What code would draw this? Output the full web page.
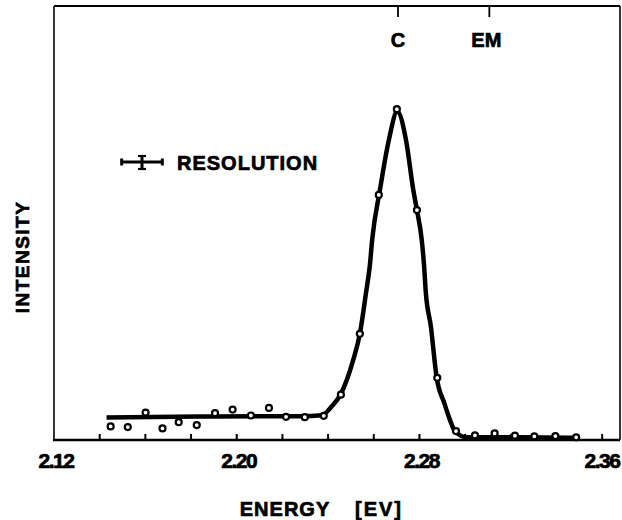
<!DOCTYPE html>
<html>
<head>
<meta charset="utf-8">
<script src="https://cdn.jsdelivr.net/npm/d3@7"></script>
<style>
  body { margin: 0; background: #fff; }
  text { font-family: "Liberation Sans", Arial, sans-serif; font-weight: bold; fill: #000;
         stroke: #000; stroke-width: 0.7px; }
</style>
</head>
<body>
<div id="chart"></div>
<script>
// 1. The data
// measured points: energy [eV] and intensity (arb. units, peak = 100)
const energies = [2.1448, 2.1523, 2.1601, 2.1675, 2.1746, 2.1825, 2.1905, 2.1982, 2.2062,
  2.2141, 2.2216, 2.2298, 2.2381, 2.2456, 2.2539, 2.2622, 2.2701, 2.2789, 2.2878,
  2.2960, 2.3043, 2.3129, 2.3218, 2.3303, 2.3395, 2.3486];
const intensities = [4.1, 3.9, 8.3, 3.5, 5.4, 4.5, 8.1, 9.2, 7.4, 9.7, 7.0, 6.9, 7.3,
  13.7, 32.1, 74.1, 100, 69.5, 18.8, 2.7, 1.4, 2.0, 1.3, 1.1, 1.2, 0.8];

// fitted curve drawn through the points
const fitEnergies = [2.1430, 2.1838, 2.2276, 2.2373, 2.2415, 2.2455, 2.2510, 2.2539, 2.2566,
  2.2583, 2.2593, 2.2627, 2.2666, 2.2703, 2.2741, 2.2773, 2.2789, 2.2810, 2.2820, 2.2828,
  2.2850, 2.2875, 2.2909, 2.2934, 2.2955, 2.3007, 2.3240, 2.3503];
const fitIntensities = [6.8, 7.1, 7.2, 7.5, 10.1, 13.8, 24.2, 32.1, 44.5,
  52.9, 60.5, 75.6, 90.7, 99.3, 90.7, 75.6, 69.5, 60.5, 52.9, 44.5,
  34.3, 19.0, 11.1, 6.0, 2.7, 0.8, 0.8, 0.6];

// axis ticks and labels
const minorTicks = [2.14, 2.16, 2.18, 2.20, 2.22, 2.24, 2.26, 2.28, 2.30, 2.32, 2.34, 2.36];
const tickLabels = [2.12, 2.20, 2.28, 2.36];
const markerNames = ["C", "EM"];
const markerEnergies = [2.2706, 2.3106];
const resolutionWidth = 0.0178; // eV

// 2. Chart setup
const WIDTH = 622;
const HEIGHT = 520;
const margin = { top: 6, right: 2, bottom: 80, left: 54 };

const svg = d3
  .select("#chart")
  .append("svg")
  .attr("width", WIDTH)
  .attr("height", HEIGHT);

const x = d3
  .scaleLinear()
  .domain([2.12, 2.3678])
  .range([margin.left, WIDTH - margin.right]);

const y = d3
  .scaleLinear()
  .domain([0, 131.2])
  .range([HEIGHT - margin.bottom, margin.top]);

const x0 = x.range()[0], x1 = x.range()[1];
const y0 = y.range()[0], y1 = y.range()[1];

// 3. Frame
svg.append("line").attr("x1", x0).attr("x2", x0).attr("y1", y1).attr("y2", y0)
  .attr("stroke", "#000").attr("stroke-width", 1.6);
svg.append("line").attr("x1", x1).attr("x2", x1).attr("y1", y1).attr("y2", y0)
  .attr("stroke", "#000").attr("stroke-width", 1.6);
svg.append("line").attr("x1", x0).attr("x2", x1).attr("y1", y1).attr("y2", y1)
  .attr("stroke", "#000").attr("stroke-width", 2);
svg.append("line").attr("x1", x0 - 1).attr("x2", x1).attr("y1", y0).attr("y2", y0)
  .attr("stroke", "#000").attr("stroke-width", 2.6);

// bottom ticks (inward) and labels
svg.selectAll(".xtick")
  .data(minorTicks)
  .enter()
  .append("line")
  .attr("x1", (d) => x(d))
  .attr("x2", (d) => x(d))
  .attr("y1", y0)
  .attr("y2", y0 - 6)
  .attr("stroke", "#000")
  .attr("stroke-width", 2);

svg.selectAll(".xlabel")
  .data(tickLabels)
  .enter()
  .append("text")
  .attr("x", (d) => Math.min(x(d) + 2, WIDTH - 20))
  .attr("y", y0 + 28)
  .attr("text-anchor", "middle")
  .attr("font-size", "21px")
  .attr("letter-spacing", "-1.5px")
  .text((d) => d.toFixed(2));

// top markers C and EM
svg.selectAll(".mtick")
  .data(markerEnergies)
  .enter()
  .append("line")
  .attr("x1", (d) => x(d))
  .attr("x2", (d) => x(d))
  .attr("y1", y1)
  .attr("y2", y1 + 11)
  .attr("stroke", "#000")
  .attr("stroke-width", 1.8);

svg.selectAll(".mlabel")
  .data(markerNames)
  .enter()
  .append("text")
  .attr("x", (d, i) => x(markerEnergies[i]) - (i === 1 ? 3 : 0))
  .attr("y", 47)
  .attr("text-anchor", "middle")
  .attr("font-size", "20px")
  .text((d) => d);

// axis titles
svg.append("text")
  .attr("x", 285)
  .attr("y", 516)
  .attr("text-anchor", "middle")
  .attr("font-size", "20px")
  .attr("letter-spacing", "1px")
  .text("ENERGY");

svg.append("text")
  .attr("x", 379)
  .attr("y", 516)
  .attr("text-anchor", "middle")
  .attr("font-size", "20px")
  .attr("letter-spacing", "2px")
  .text("[EV]");

svg.append("text")
  .attr("transform", "translate(29, 257) rotate(-90)")
  .attr("text-anchor", "middle")
  .attr("font-size", "19px")
  .attr("letter-spacing", "1.5px")
  .text("INTENSITY");

// 4. Fitted curve
const line = d3
  .line()
  .x((d) => x(d[0]))
  .y((d) => y(d[1]))
  .curve(d3.curveMonotoneX);

svg.append("path")
  .datum(fitEnergies.map((e, i) => [e, fitIntensities[i]]))
  .attr("d", line)
  .attr("fill", "none")
  .attr("stroke", "#000")
  .attr("stroke-width", 4.5)
  .attr("stroke-linejoin", "round");

// 5. Measured points
svg.selectAll(".pt")
  .data(energies.map((e, i) => [e, intensities[i]]))
  .enter()
  .append("circle")
  .attr("cx", (d) => x(d[0]))
  .attr("cy", (d) => y(d[1]))
  .attr("r", 3)
  .attr("fill", "#fff")
  .attr("stroke", "#000")
  .attr("stroke-width", 2.2);

// 6. Resolution legend
const rc = 142, ry = 162;
const rw = x(2.12 + resolutionWidth) - x(2.12);
const g = svg.append("g");
g.append("line").attr("x1", rc - rw / 2).attr("x2", rc + rw / 2).attr("y1", ry).attr("y2", ry)
  .attr("stroke", "#000").attr("stroke-width", 3);
[rc - rw / 2, rc + rw / 2].forEach((cx) => {
  g.append("line").attr("x1", cx).attr("x2", cx).attr("y1", ry - 3.5).attr("y2", ry + 3.5)
    .attr("stroke", "#000").attr("stroke-width", 3);
});
g.append("line").attr("x1", rc).attr("x2", rc).attr("y1", ry - 6).attr("y2", ry + 7)
  .attr("stroke", "#000").attr("stroke-width", 3);
g.append("line").attr("x1", rc - 4).attr("x2", rc + 4).attr("y1", ry - 6).attr("y2", ry - 6)
  .attr("stroke", "#000").attr("stroke-width", 2.2);
g.append("line").attr("x1", rc - 4).attr("x2", rc + 4).attr("y1", ry + 7).attr("y2", ry + 7)
  .attr("stroke", "#000").attr("stroke-width", 2.2);
g.append("text")
  .attr("x", 177)
  .attr("y", 170)
  .attr("font-size", "20px")
  .attr("letter-spacing", "1px")
  .text("RESOLUTION");
</script>
</body>
</html>
